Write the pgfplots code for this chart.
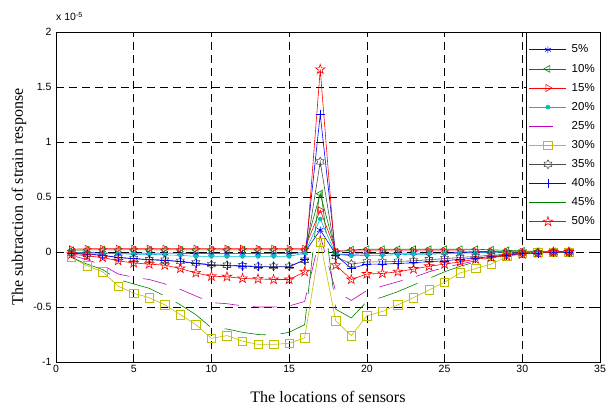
\documentclass[border=0pt]{standalone}
\usepackage{fontspec}
\setmainfont{Liberation Sans}
\newfontfamily\timesf{Liberation Serif}
\usepackage{pgfplots}
\pgfplotsset{compat=1.18}
\usepackage{pgfplotstable}

\definecolor{mblue}{rgb}{0,0,1}
\definecolor{mgreen}{rgb}{0,0.5,0}
\definecolor{mred}{rgb}{1,0,0}
\definecolor{mcyan}{rgb}{0,0.75,0.75}
\definecolor{mmag}{rgb}{0.75,0,0.75}
\definecolor{myel}{rgb}{0.75,0.75,0}
\definecolor{mgray}{rgb}{0.3,0.3,0.3}

\pgfdeclareplotmark{pentagram}{%
 \pgfpathmoveto{\pgfpointpolar{90}{\pgfplotmarksize}}%
 \pgfpathlineto{\pgfpointpolar{126}{0.382\pgfplotmarksize}}%
 \pgfpathlineto{\pgfpointpolar{162}{\pgfplotmarksize}}%
 \pgfpathlineto{\pgfpointpolar{198}{0.382\pgfplotmarksize}}%
 \pgfpathlineto{\pgfpointpolar{234}{\pgfplotmarksize}}%
 \pgfpathlineto{\pgfpointpolar{270}{0.382\pgfplotmarksize}}%
 \pgfpathlineto{\pgfpointpolar{306}{\pgfplotmarksize}}%
 \pgfpathlineto{\pgfpointpolar{342}{0.382\pgfplotmarksize}}%
 \pgfpathlineto{\pgfpointpolar{18}{\pgfplotmarksize}}%
 \pgfpathlineto{\pgfpointpolar{54}{0.382\pgfplotmarksize}}%
 \pgfpathclose\pgfusepathqstroke}
\pgfdeclareplotmark{hexagram}{%
 \pgfpathmoveto{\pgfpointpolar{90}{\pgfplotmarksize}}%
 \pgfpathlineto{\pgfpointpolar{120}{0.577\pgfplotmarksize}}%
 \pgfpathlineto{\pgfpointpolar{150}{\pgfplotmarksize}}%
 \pgfpathlineto{\pgfpointpolar{180}{0.577\pgfplotmarksize}}%
 \pgfpathlineto{\pgfpointpolar{210}{\pgfplotmarksize}}%
 \pgfpathlineto{\pgfpointpolar{240}{0.577\pgfplotmarksize}}%
 \pgfpathlineto{\pgfpointpolar{270}{\pgfplotmarksize}}%
 \pgfpathlineto{\pgfpointpolar{300}{0.577\pgfplotmarksize}}%
 \pgfpathlineto{\pgfpointpolar{330}{\pgfplotmarksize}}%
 \pgfpathlineto{\pgfpointpolar{0}{0.577\pgfplotmarksize}}%
 \pgfpathlineto{\pgfpointpolar{30}{\pgfplotmarksize}}%
 \pgfpathlineto{\pgfpointpolar{60}{0.577\pgfplotmarksize}}%
 \pgfpathclose\pgfusepathqstroke}

\pgfplotstableread{
x  s5     s10   s15   s20    s25   s30    s35    s40    s45    s50
1  -0.005 0.015 0.025 -0.005 -0.03 -0.05  -0.01  -0.01  -0.05  -0.02
2  -0.005 0.02  0.03  -0.01  -0.07 -0.125 -0.02  -0.02  -0.11  -0.035
3  -0.01  0.02  0.03  -0.01  -0.12 -0.18  -0.03  -0.03  -0.16  -0.05
4  -0.01  0.02  0.03  -0.015 -0.2  -0.31  -0.05  -0.05  -0.25  -0.08
5  -0.01  0.02  0.03  -0.02  -0.23 -0.375 -0.06  -0.06  -0.29  -0.1
6  -0.01  0.02  0.03  -0.02  -0.25 -0.415 -0.07  -0.07  -0.33  -0.11
7  -0.01  0.02  0.03  -0.027 -0.29 -0.48  -0.075 -0.075 -0.4   -0.12
8  -0.01  0.02  0.03  -0.03  -0.34 -0.57  -0.085 -0.088 -0.48  -0.15
9  -0.015 0.02  0.03  -0.04  -0.4  -0.66  -0.1   -0.105 -0.57  -0.19
10 -0.015 0.02  0.03  -0.04  -0.46 -0.785 -0.115 -0.118 -0.69  -0.22
11 -0.015 0.02  0.03  -0.04  -0.47 -0.76  -0.12  -0.125 -0.7   -0.225
12 -0.015 0.02  0.03  -0.04  -0.49 -0.81  -0.125 -0.128 -0.73  -0.24
13 -0.015 0.02  0.03  -0.04  -0.5  -0.84  -0.13  -0.135 -0.75  -0.245
14 -0.015 0.02  0.03  -0.04  -0.5  -0.84  -0.13  -0.135 -0.755 -0.25
15 -0.015 0.02  0.03  -0.04  -0.49 -0.83  -0.13  -0.135 -0.73  -0.25
16 -0.005 0.02  0.03  -0.01  -0.45 -0.78  -0.075 -0.07  -0.66  -0.18
17 0.2    0.53  0.38  0.3    0.15  0.09   0.82   1.25   0.6    1.66
18 -0.02  0.0   0.01  -0.02  -0.36 -0.625 -0.04  -0.03  -0.52  -0.12
19 -0.02  0.02  0.01  -0.035 -0.44 -0.76  -0.11  -0.15  -0.6   -0.25
20 -0.015 0.025 0.01  -0.03  -0.35 -0.58  -0.09  -0.11  -0.45  -0.2
21 -0.015 0.025 0.01  -0.03  -0.31 -0.54  -0.09  -0.11  -0.41  -0.195
22 -0.01  0.025 0.01  -0.025 -0.27 -0.48  -0.085 -0.105 -0.36  -0.18
23 -0.01  0.025 0.01  -0.02  -0.23 -0.415 -0.08  -0.097 -0.3   -0.155
24 -0.01  0.025 0.01  -0.02  -0.18 -0.345 -0.07  -0.088 -0.24  -0.13
25 -0.01  0.025 0.01  -0.015 -0.14 -0.275 -0.06  -0.08  -0.18  -0.11
26 -0.005 0.025 0.01  -0.01  -0.11 -0.19  -0.05  -0.066 -0.13  -0.09
27 -0.005 0.025 0.005 -0.01  -0.08 -0.15  -0.04  -0.057 -0.09  -0.065
28 0      0.02  0.005 -0.005 -0.05 -0.11  -0.03  -0.04  -0.05  -0.05
29 0      0.015 0     0      -0.03 -0.04  -0.02  -0.03  -0.02  -0.035
30 0      0.01  0     0      -0.01 -0.01  -0.01  -0.015 -0.005 -0.02
31 0      0.005 0     0      0     0      -0.005 -0.01  0      -0.01
32 0      0.005 0     0      0     0      0      0      0      0
33 0      0.005 0     0      0     0      0      0      0      0
}\datatable

\begin{document}
\begin{tikzpicture}
\path[use as bounding box] (-56pt,-45pt) rectangle (553pt,362pt);
\begin{axis}[
  scale only axis, width=544pt, height=330pt,
  xmin=0, xmax=35, ymin=-1, ymax=2,
  clip=false,
  xtick={0,5,10,15,20,25,30,35},
  ytick={-1,-0.5,0,0.5,1,1.5,2},
  xticklabels={0,5,10,15,20,25,30,35},
  yticklabels={-1,-0.5,0,0.5,1,1.5,2},
  tick align=inside, tick pos=both, major tick length=5pt,
  tick style={black, line width=0.5pt},
  grid=major,
  major grid style={black, dash pattern=on 8pt off 5pt, line width=0.5pt},
  axis line style={black, line width=0.8pt},
  ticklabel style={font=\fontsize{10.5}{12}\selectfont},
  yticklabel style={xshift=-1pt},
  xlabel={The locations of sensors},
  ylabel={The subtraction of strain response},
  label style={font=\timesf\fontsize{16}{19}\selectfont},
  xlabel style={at={(axis description cs:0.5,-0.1212)}, anchor=base},
  ylabel style={at={(axis description cs:-0.0607,0.5)}, anchor=base},
  every axis plot/.append style={line width=0.6pt},
  legend cell align=left,
  legend image code/.code={%
    \path[draw=none,fill=none] (0pt,-7pt) -- (0pt,7pt);
    \draw[mark=none] (0cm,0cm) -- (1.3cm,0cm);
    \draw[mark repeat=2,mark phase=2,draw=none] plot coordinates {(0cm,0cm) (0.65cm,0cm) (1.3cm,0cm)};},
  legend style={at={(rel axis cs:1,1)}, anchor=north east, draw=black, fill=white,
    line width=0.5pt, font=\fontsize{11.5}{13}\selectfont,
    inner xsep=3pt, inner ysep=10.5pt, row sep=5.1pt, column sep=3pt,
    nodes={inner sep=2pt}},
]
\addplot[mblue, mark=asterisk, mark size=3.5pt, mark options={solid}] table[x=x,y=s5] {\datatable};
\addlegendentry{5\%}
\addplot[mgreen, mark=triangle, mark size=4pt, mark options={solid, rotate=90}] table[x=x,y=s10] {\datatable};
\addlegendentry{10\%}
\addplot[mred, mark=triangle, mark size=4pt, mark options={solid, rotate=-90}] table[x=x,y=s15] {\datatable};
\addlegendentry{15\%}
\addplot[mcyan, mark=*, mark size=2pt, mark options={solid, fill=mcyan}] table[x=x,y=s20] {\datatable};
\addlegendentry{20\%}
\addplot[mmag, dash pattern=on 24pt off 14pt] table[x=x,y=s25] {\datatable};
\addlegendentry{25\%}
\addplot[myel, mark=square, mark size=4.2pt, mark options={solid}] table[x=x,y=s30] {\datatable};
\addlegendentry{30\%}
\addplot[mgray, mark=hexagram, mark size=4.5pt, mark options={solid}] table[x=x,y=s35] {\datatable};
\addlegendentry{35\%}
\addplot[mblue, mark=+, mark size=4.5pt, mark options={solid}] table[x=x,y=s40] {\datatable};
\addlegendentry{40\%}
\addplot[mgreen, dash pattern=on 42pt off 15pt] table[x=x,y=s45] {\datatable};
\addlegendentry{45\%}
\addplot[mred, mark=pentagram, mark size=5pt, mark options={solid}] table[x=x,y=s50] {\datatable};
\addlegendentry{50\%}
\node[anchor=base west, font=\fontsize{10.5}{12}\selectfont, inner sep=0pt] at ([yshift=11pt]rel axis cs:0,1) {x 10\textsuperscript{-5}};
\end{axis}
\end{tikzpicture}
\end{document}
